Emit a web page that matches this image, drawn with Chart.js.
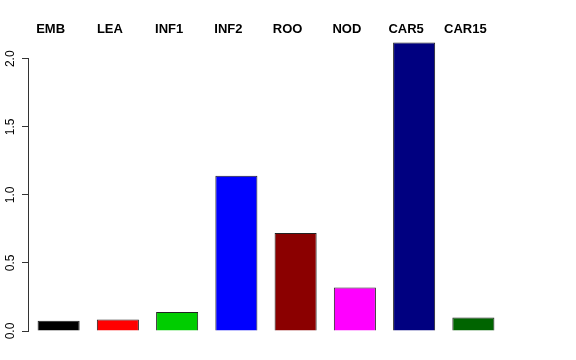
<!DOCTYPE html>
<html>
<head>
<meta charset="utf-8">
<script src="https://cdn.jsdelivr.net/npm/chart.js@4/dist/chart.umd.min.js"></script>
<style>
  html, body { margin: 0; padding: 0; background: #fff; }
  #wrap { width: 576px; height: 360px; }
</style>
</head>
<body>
<div id="wrap"><canvas id="barChart"></canvas></div>
<script>
// chart data
const categories = ['EMB', 'LEA', 'INF1', 'INF2', 'ROO', 'NOD', 'CAR5', 'CAR15'];
const values = [0.075, 0.085, 0.14, 1.14, 0.72, 0.32, 2.12, 0.10];
const barColors = ['#000000', '#FF0000', '#00CD00', '#0000FF', '#8B0000', '#FF00FF', '#000080', '#006400'];
const yTicks = [0, 0.5, 1.0, 1.5, 2.0];

// R-style axis line that only spans the tick range
const axisLine = {
    id: 'axisLine',
    afterDraw(chart) {
        const y = chart.scales.y;
        const ctx = chart.ctx;
        const x = Math.round(chart.chartArea.left) - 0.5;
        ctx.save();
        ctx.strokeStyle = '#333';
        ctx.lineWidth = 1;
        ctx.beginPath();
        ctx.moveTo(x, y.getPixelForValue(yTicks[0]));
        ctx.lineTo(x, y.getPixelForValue(yTicks[yTicks.length - 1]));
        ctx.stroke();
        ctx.restore();
    }
};

document.addEventListener('DOMContentLoaded', function() {
    Chart.defaults.font.family = '"Liberation Sans", Arial, sans-serif';
    Chart.defaults.color = '#000';

    new Chart(document.getElementById('barChart'), {
        type: 'bar',
        data: {
            labels: categories,
            datasets: [{
                data: values,
                backgroundColor: barColors,
                borderColor: '#222',
                borderWidth: 1,
                categoryPercentage: 1,
                barPercentage: 0.71
            }]
        },
        options: {
            responsive: true,
            maintainAspectRatio: false,
            animation: false,
            layout: {
                padding: { left: 0, right: 73, top: 0, bottom: 29 }
            },
            plugins: {
                legend: { display: false },
                tooltip: { enabled: false }
            },
            scales: {
                x: {
                    position: 'top',
                    grid: { display: false, drawTicks: false },
                    border: { display: false },
                    ticks: {
                        font: { size: 13, weight: 'bold' },
                        color: '#000',
                        padding: 0,
                        labelOffset: -8,
                        maxRotation: 0
                    },
                    afterFit: function(scale) { scale.height = 37; }
                },
                y: {
                    min: 0,
                    max: 2.16,
                    grid: {
                        drawOnChartArea: false,
                        drawTicks: true,
                        tickLength: 7,
                        color: '#333'
                    },
                    border: { display: false },
                    ticks: {
                        font: { size: 12 },
                        color: '#000',
                        minRotation: 90,
                        maxRotation: 90,
                        crossAlign: 'center',
                        padding: 3,
                        callback: function(v) { return Number(v).toFixed(1); }
                    },
                    afterBuildTicks: function(scale) {
                        scale.ticks = yTicks.map(function(v) { return { value: v }; });
                    },
                    afterFit: function(scale) { scale.width = 29; }
                }
            }
        },
        plugins: [axisLine]
    });
});
</script>
</body>
</html>
